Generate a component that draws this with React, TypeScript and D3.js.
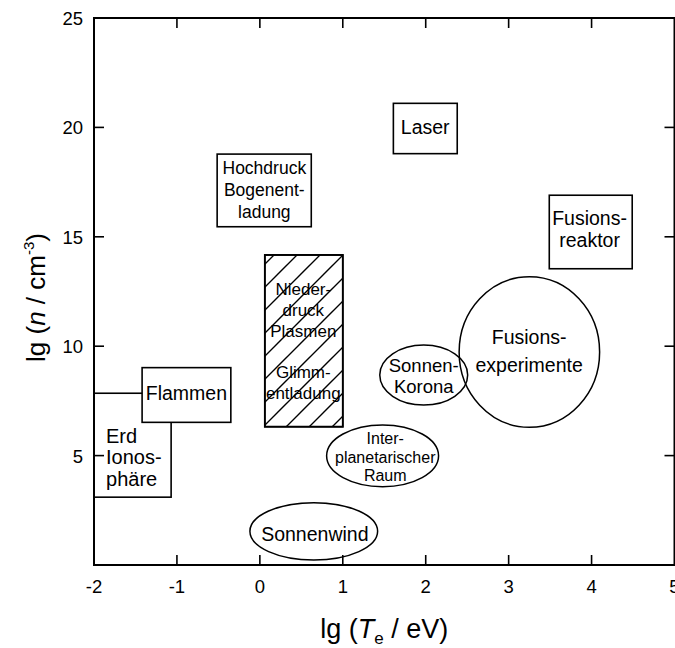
import React from 'react';
import * as d3 from 'd3';

// Axis ticks
const xTickValues = [-2, -1, 0, 1, 2, 3, 4, 5];
const yTickValues = [5, 10, 15, 20, 25];
const xInnerTicks = [-1, 0, 1, 2, 3, 4];
const yInnerTicks = [5, 10, 15, 20];

// Rectangular regions: lg(Te/eV) range and lg(n/cm^-3) range
const boxNames = ['Erd Ionosphäre', 'Flammen', 'Hochdruck Bogenentladung', 'Niederdruck Plasmen / Glimmentladung', 'Laser', 'Fusionsreaktor'];
const boxX0 = [-2, -1.42, -0.515, 0.06, 1.61, 3.49];
const boxX1 = [-1.07, -0.35, 0.62, 1.0, 2.38, 4.49];
const boxY0 = [3.1, 6.52, 15.46, 6.32, 18.8, 13.54];
const boxY1 = [7.85, 9.02, 18.78, 14.17, 21.1, 16.9];
const boxHatched = [false, false, false, true, false, false];

// Elliptical regions
const ellipseNames = ['Sonnenwind', 'Interplanetarischer Raum', 'Sonnen-Korona', 'Fusionsexperimente'];
const ellipseCx = [0.65, 1.48, 1.976, 3.25];
const ellipseCy = [1.54, 4.99, 8.68, 9.735];
const ellipseRx = [0.77, 0.675, 0.53, 0.847];
const ellipseRy = [1.31, 1.41, 1.37, 3.44];

// Labels (anchor in data units: x, first-line baseline y)
const labelLines = [
  ['Erd', 'Ionos-', 'phäre'],
  ['Flammen'],
  ['Hochdruck', 'Bogenent-', 'ladung'],
  ['Nieder-', 'druck', 'Plasmen', '', 'Glimm-', 'entladung'],
  ['Laser'],
  ['Fusions-', 'reaktor'],
  ['Sonnenwind'],
  ['Inter-', 'planetarischer', 'Raum'],
  ['Sonnen-', 'Korona'],
  ['Fusions-', 'experimente'],
];
const labelX = [-1.855, -0.886, 0.054, 0.524, 1.994, 3.976, 0.663, 1.512, 1.976, 3.247];
const labelY = [5.576, 7.54, 17.87, 12.34, 19.7, 15.54, 1.1, 5.53, 8.83, 10.1];

const labelStyle = [
  { size: 20, lh: 21.5, anchor: 'start' },
  { size: 19.5, lh: 20, anchor: 'middle' },
  { size: 17.5, lh: 22, anchor: 'middle' },
  { size: 17, lh: 20.8, anchor: 'middle' },
  { size: 19.5, lh: 20, anchor: 'middle' },
  { size: 19.5, lh: 22, anchor: 'middle' },
  { size: 19.5, lh: 20, anchor: 'middle' },
  { size: 16, lh: 18.5, anchor: 'middle' },
  { size: 18.5, lh: 21.5, anchor: 'middle' },
  { size: 19.5, lh: 28, anchor: 'middle' },
];

const FONT = '"Liberation Sans", Arial, Helvetica, sans-serif';

export default function App() {
  const W = 675;
  const H = 648;
  const x = d3.scaleLinear().domain([-2, 5]).range([94, 674.5]);
  const y = d3.scaleLinear().domain([0, 25]).range([565, 18]);
  const x0 = x(-2), x1 = x(5), y0 = y(0), y1 = y(25);
  const tl = 10;

  return (
    <svg width={W} height={H} style={{ position: 'absolute', left: 0, top: 0, background: '#fff' }} fontFamily={FONT}>
      <defs>
        <pattern id="hatch" patternUnits="userSpaceOnUse" width={23} height={23}>
          <path d="M-3,3 L3,-3 M0,23 L23,0 M20,26 L26,20" stroke="#000" strokeWidth={1.4} />
        </pattern>
      </defs>
      <rect x={0} y={0} width={W} height={H} fill="#fff" />

      {/* boxes */}
      {boxNames.map((n, i) => {
        const rx = x(boxX0[i]);
        const ry = y(boxY1[i]);
        const w = x(boxX1[i]) - rx;
        const h = y(boxY0[i]) - ry;
        return (
          <g key={n}>
            <rect x={rx} y={ry} width={w} height={h} fill="#fff" stroke="#000" strokeWidth={1.6} />
            {boxHatched[i] && <rect x={rx} y={ry} width={w} height={h} fill="url(#hatch)" stroke="#000" strokeWidth={1.8} />}
          </g>
        );
      })}

      {/* ellipses */}
      {ellipseNames.map((n, i) => (
        <ellipse key={n} cx={x(ellipseCx[i])} cy={y(ellipseCy[i])}
          rx={x(ellipseCx[i] + ellipseRx[i]) - x(ellipseCx[i])}
          ry={y(ellipseCy[i]) - y(ellipseCy[i] + ellipseRy[i])}
          fill="none" stroke="#000" strokeWidth={1.5} />
      ))}

      {/* labels */}
      {labelLines.map((lines, i) => (
        <text key={i} x={x(labelX[i])} y={y(labelY[i])} fontSize={labelStyle[i].size}
          textAnchor={labelStyle[i].anchor} fill="#000">
          {lines.map((t, j) => (
            <tspan key={j} x={x(labelX[i])} y={y(labelY[i]) + j * labelStyle[i].lh}>{t}</tspan>
          ))}
        </text>
      ))}

      {/* frame */}
      <rect x={x0} y={y1} width={x1 - x0} height={y0 - y1} fill="none" stroke="#000" strokeWidth={2} />
      {xInnerTicks.map(t => (
        <g key={'xt' + t}>
          <line x1={x(t)} x2={x(t)} y1={y1} y2={y1 + tl} stroke="#000" strokeWidth={1.6} />
          <line x1={x(t)} x2={x(t)} y1={y0} y2={y0 - tl} stroke="#000" strokeWidth={1.6} />
        </g>
      ))}
      {yInnerTicks.map(t => (
        <g key={'yt' + t}>
          <line x1={x0} x2={x0 + tl} y1={y(t)} y2={y(t)} stroke="#000" strokeWidth={1.6} />
          <line x1={x1} x2={x1 - tl} y1={y(t)} y2={y(t)} stroke="#000" strokeWidth={1.6} />
        </g>
      ))}
      {xTickValues.map(t => (
        <text key={'xl' + t} x={x(t)} y={y0 + 28} fontSize={18.5} textAnchor="middle">{t}</text>
      ))}
      {yTickValues.map(t => (
        <text key={'yl' + t} x={x0 - 11} y={y(t) + 7} fontSize={18.5} textAnchor="end">{t}</text>
      ))}

      {/* axis titles */}
      <text x={(x0 + x1) / 2} y={638} fontSize={27} textAnchor="middle">
        lg (<tspan fontStyle="italic">T</tspan><tspan fontSize={17} dy={6}>e</tspan><tspan dy={-6}> / eV)</tspan>
      </text>
      <text transform={`translate(45, ${(y0 + y1) / 2 + 6}) rotate(-90)`} fontSize={26} textAnchor="middle">
        lg (<tspan fontStyle="italic">n</tspan> / cm<tspan fontSize={15} dy={-11}>-3</tspan><tspan dy={11}>)</tspan>
      </text>
    </svg>
  );
}
